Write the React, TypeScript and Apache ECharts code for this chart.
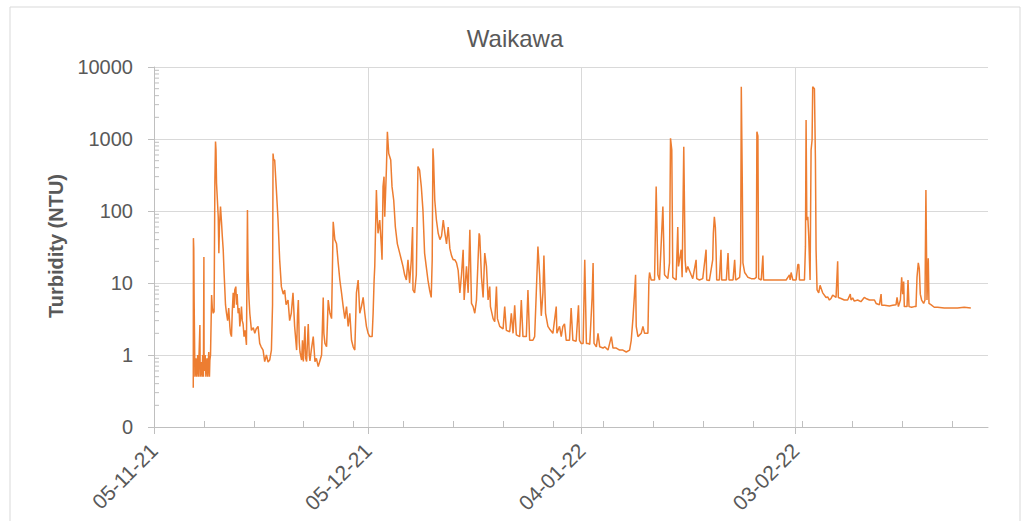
import React, { useEffect, useRef } from "react";
import * as echarts from "echarts";

// Day offsets from 05-11-21, turbidity in NTU
const novReadings: [number, number][] = [
  [5.51, 0.35], [5.53, 42], [5.58, 30], [5.63, 5.8], [5.68, 2.0], [5.74, 0.5], [5.88, 0.9], [5.98, 0.5],
  [6.13, 1.0], [6.23, 0.5], [6.44, 2.6], [6.48, 0.5], [6.63, 0.8], [6.73, 0.5], [6.83, 1.0], [6.93, 0.5],
  [7.0, 23], [7.03, 0.6], [7.18, 1.0], [7.28, 0.5], [7.43, 0.9], [7.53, 0.5], [7.68, 1.1], [7.78, 0.5],
  [7.84, 0.85], [7.93, 1.0], [8.08, 6.8], [8.18, 4.5], [8.31, 3.8], [8.43, 4.0], [8.54, 250], [8.63, 920],
  [8.7, 700], [8.77, 245], [8.88, 150], [9.01, 83], [9.1, 26], [9.18, 60], [9.33, 115], [9.47, 70],
  [9.58, 45], [9.71, 29], [9.83, 14], [9.94, 8], [10.03, 5], [10.17, 3.8], [10.33, 3.0], [10.48, 4.5],
  [10.64, 2.5], [10.73, 2.0], [10.87, 1.8], [10.98, 4], [11.11, 7.3], [11.23, 4.5], [11.33, 8], [11.48, 8.9],
  [11.58, 5], [11.66, 7], [11.8, 3.8], [11.93, 4.5], [12.04, 2.5], [12.18, 3.5], [12.27, 4.7], [12.38, 3.0],
  [12.5, 2.7], [12.63, 1.8], [12.78, 2.2], [12.97, 1.38], [13.11, 103], [13.15, 40], [13.2, 15], [13.33, 6],
  [13.44, 3.8], [13.67, 2.2], [13.93, 2.4], [14.14, 2.0], [14.33, 2.3], [14.6, 2.5], [14.83, 1.45], [15.03, 1.3],
  [15.3, 1.17], [15.53, 0.81], [15.77, 1.0], [16.0, 0.8], [16.23, 0.85], [16.47, 1.17], [16.63, 5], [16.7, 630],
  [16.78, 520], [16.93, 510], [17.17, 195], [17.4, 75], [17.63, 21], [17.87, 8.9], [18.13, 7], [18.33, 8],
  [18.53, 5], [18.8, 5.8], [19.03, 3], [19.26, 3.8], [19.5, 7.3], [19.73, 2.5], [20.01, 1.17], [20.13, 3.5],
  [20.25, 5.8], [20.38, 1.5], [20.48, 1.1], [20.71, 0.85], [20.83, 1.6], [20.95, 0.81], [21.18, 2.5], [21.28, 0.9],
  [21.41, 0.81], [21.64, 2.7], [21.78, 1.0], [21.88, 0.83], [22.08, 1.2], [22.34, 1.8], [22.58, 0.81], [22.78, 0.9],
  [23.04, 0.69], [23.28, 0.83], [23.51, 1.0], [23.74, 6.3], [23.83, 2.0], [23.98, 1.45], [24.21, 1.3], [24.44, 5.8],
  [24.68, 3.8], [24.91, 3.2], [25.14, 71], [25.37, 40], [25.61, 35], [25.84, 19], [26.07, 11], [26.31, 7.3],
  [26.54, 4.7], [26.77, 3.2], [27.01, 4.7], [27.24, 2.5], [27.47, 3.8], [27.71, 1.6], [27.94, 1.3], [28.17, 1.17],
  [28.4, 7.3], [28.64, 11], [28.87, 3.8], [29.1, 4.7], [29.34, 6.3], [29.57, 3.8], [29.8, 2.5],
];

const decReadings: [number, number][] = [
  [30.04, 2.0], [30.27, 1.8], [30.6, 1.8], [30.74, 3.8], [30.88, 11], [30.97, 17], [31.2, 195], [31.33, 80],
  [31.43, 49], [31.67, 75], [31.9, 32], [31.99, 21], [32.13, 218], [32.27, 300], [32.37, 83], [32.6, 370],
  [32.74, 1260], [32.83, 900], [32.93, 630], [33.21, 510], [33.39, 218], [33.63, 141], [33.86, 60], [34.14, 35],
  [34.47, 26], [34.7, 21], [34.93, 17], [35.16, 13], [35.4, 11], [35.63, 21], [35.86, 10], [36.1, 21],
  [36.28, 60], [36.33, 8], [36.56, 7.3], [36.8, 13], [37.03, 414], [37.26, 370], [37.5, 218], [37.73, 103],
  [37.82, 60], [37.96, 26], [38.19, 17], [38.43, 11], [38.66, 8], [38.89, 6.3], [39.03, 21], [39.13, 740],
  [39.22, 510], [39.39, 141], [39.62, 75], [39.87, 49], [40.11, 40], [40.34, 45], [40.58, 75], [40.81, 49],
  [41.04, 35], [41.27, 60], [41.51, 30], [41.74, 24], [41.97, 21], [42.21, 21], [42.44, 19], [42.67, 15],
  [42.91, 7.3], [43.14, 13], [43.37, 29], [43.51, 5.8], [43.84, 17], [44.07, 7.3], [44.31, 55], [44.54, 5.2],
  [44.77, 4.7], [45.0, 3.8], [45.24, 5.8], [45.61, 49], [45.7, 45], [45.94, 12], [46.17, 6.3], [46.4, 26],
  [46.64, 17], [46.87, 5.8], [47.1, 8.9], [47.2, 4.7], [47.57, 3.2], [47.8, 2.9], [48.04, 8.9], [48.18, 3.2],
  [48.5, 2.5], [48.97, 2.3], [49.2, 4.7], [49.43, 2.2], [49.9, 2.1], [50.13, 3.8], [50.37, 2.0], [50.6, 4.9],
  [50.83, 1.9], [51.3, 1.8], [51.53, 5.8], [51.76, 1.8], [52.23, 1.8], [52.46, 8], [52.7, 1.6], [53.16, 1.6],
  [53.4, 1.8], [53.63, 7.3], [53.86, 32], [54.1, 13], [54.33, 3.5], [54.56, 7.3], [54.7, 24], [54.93, 3.8],
  [55.26, 2.5], [55.49, 2.3], [55.96, 2.0], [56.43, 4.7], [56.52, 2.0], [56.89, 2.5], [57.13, 1.8], [57.36, 2.5],
  [57.59, 2.7], [57.83, 1.6], [58.29, 1.6], [58.52, 4.5], [58.76, 1.6], [59.22, 1.55], [59.55, 4.9], [59.69, 1.6],
  [59.92, 1.45],
];

const janReadings: [number, number][] = [
  [60.2, 1.45], [60.43, 21], [60.66, 1.45], [60.9, 1.45], [61.13, 1.4], [61.46, 6.3], [61.6, 19], [61.73, 1.45],
  [62.06, 1.3], [62.29, 2.0], [62.53, 1.3], [62.99, 1.25], [63.23, 1.3], [63.69, 1.17], [64.16, 1.8], [64.39, 1.25],
  [64.86, 1.25], [65.32, 1.17], [65.78, 1.17], [66.25, 1.1], [66.72, 1.17], [66.95, 1.6], [67.19, 3.2], [67.42, 7.3],
  [67.56, 13], [67.65, 2.5], [67.89, 1.8], [68.35, 2.0], [68.59, 2.5], [68.82, 2.0], [69.29, 2.0], [69.43, 11],
  [69.52, 14], [69.75, 11], [70.22, 11], [70.45, 218], [70.69, 13], [70.92, 11], [71.39, 115], [71.53, 29],
  [71.62, 13], [72.08, 11.5], [72.32, 19], [72.46, 1020], [72.64, 700], [72.78, 12], [73.25, 11], [73.48, 60],
  [73.58, 17], [73.95, 29], [74.09, 12], [74.32, 780], [74.51, 21], [74.65, 14], [74.88, 17], [75.35, 13],
  [75.58, 11.5], [76.05, 21], [76.14, 11.5], [76.51, 11], [76.98, 11.5], [77.45, 29], [77.54, 11], [77.91, 10.8],
  [78.38, 21], [78.47, 49], [78.61, 83], [78.75, 60], [78.84, 32], [78.94, 11], [79.31, 11], [79.54, 29],
  [79.64, 11], [80.29, 11], [80.53, 26], [80.67, 11], [81.23, 11], [81.46, 21], [81.6, 11], [82.16, 12],
  [82.3, 19], [82.39, 5300], [82.53, 245], [82.62, 19], [82.86, 14], [83.09, 13], [83.32, 12], [83.79, 11.5],
  [84.26, 11.5], [84.49, 12], [84.58, 1260], [84.72, 1100], [84.82, 11.5], [85.19, 11], [85.42, 24], [85.51, 11],
  [86.82, 11], [88.22, 11], [88.68, 11], [88.92, 12], [89.15, 13], [89.24, 11], [89.38, 14], [89.62, 11],
];

const febReadings: [number, number][] = [
  [90.08, 11], [90.32, 18], [90.46, 18], [90.55, 11], [91.25, 11], [91.39, 32], [91.48, 1830], [91.58, 75],
  [91.72, 83], [91.85, 45], [91.95, 21], [92.04, 11], [92.18, 700], [92.32, 970], [92.41, 5300], [92.65, 5000],
  [92.79, 510], [92.88, 29], [93.02, 8], [93.25, 7.3], [93.44, 9.3], [93.67, 8], [93.81, 7.3], [94.28, 6.3],
  [94.51, 6.4], [94.75, 5.8], [94.98, 6.1], [95.21, 6.8], [95.68, 6.3], [95.91, 20], [96.0, 6.3], [96.38, 6.1],
  [96.84, 5.8], [97.31, 5.8], [97.68, 7], [97.78, 5.8], [98.01, 6.2], [98.24, 5.6], [98.71, 5.8], [99.17, 5.5],
  [99.64, 6.3], [99.87, 6.1], [100.37, 5.8], [101.07, 5.8], [101.3, 5.2], [101.77, 5.0], [102.0, 7], [102.09, 4.9],
  [102.47, 4.9], [103.17, 4.8], [103.63, 4.9], [104.1, 5.0], [104.24, 6.3], [104.43, 4.7], [104.71, 5.8], [104.89, 12],
  [105.03, 7], [105.17, 10.5], [105.26, 4.7], [105.64, 4.7], [105.78, 11], [105.92, 4.7], [106.29, 4.6], [106.66, 4.7],
  [106.9, 4.7], [107.04, 12], [107.22, 19], [107.36, 16], [107.5, 7], [107.69, 5.8], [107.97, 5.2], [108.16, 5.8],
  [108.29, 195], [108.44, 5.8], [108.62, 22], [108.72, 5.2], [108.99, 5.0], [109.46, 4.6], [109.93, 4.6], [110.86, 4.5],
  [111.79, 4.5], [112.72, 4.5], [113.66, 4.6], [114.59, 4.5],
];

const startDateUTC = Date.UTC(2021, 10, 5);
const axisEndDay = 117;
const majorTickDays = [0, 30, 60, 90];
const minorTickDays = [7, 14, 21, 28, 35, 42, 49, 56, 63, 70, 77, 84, 91, 98, 105, 112];
const yMin = 0.1;
const yMax = 10000;
const minorMultipliers = [2, 3, 4, 5, 6, 7, 8, 9];
const titleText = "Waikawa";
const yAxisTitle = "Turbidity (NTU)";

const FONT = "'Liberation Sans', Arial, sans-serif";
const TEXT_COLOR = "#595959";
const AXIS_COLOR = "#BFBFBF";
const GRID_COLOR = "#D9D9D9";
const LINE_COLOR = "#ED7D31";

function fmtDay(d: number): string {
  const dt = new Date(startDateUTC + Math.round(d) * 86400000);
  const dd = String(dt.getUTCDate()).padStart(2, "0");
  const mm = String(dt.getUTCMonth() + 1).padStart(2, "0");
  const yy = String(dt.getUTCFullYear() % 100).padStart(2, "0");
  return `${dd}-${mm}-${yy}`;
}

export default function App() {
  const ref = useRef<HTMLDivElement>(null);
  useEffect(() => {
    if (!ref.current) return;
    const chart = echarts.init(ref.current, undefined, { renderer: "svg" });
    const data = [...novReadings, ...decReadings, ...janReadings, ...febReadings];
    chart.setOption({
      animation: false,
      backgroundColor: "#ffffff",
      grid: { left: 154, top: 67, width: 834, height: 360, containLabel: false },
      xAxis: [
        {
          type: "value",
          min: 0,
          max: axisEndDay,
          interval: 30,
          axisLine: { show: true, lineStyle: { color: AXIS_COLOR, width: 1 } },
          axisTick: { show: true, customValues: majorTickDays, length: 7, lineStyle: { color: AXIS_COLOR } },
          axisLabel: {
            customValues: majorTickDays,
            rotate: 45,
            margin: 20,
            color: TEXT_COLOR,
            fontSize: 21,
            fontFamily: FONT,
            formatter: (v: number) => fmtDay(v),
          },
          splitLine: { show: true, lineStyle: { color: GRID_COLOR, width: 1 } },
        },
        {
          type: "value",
          min: 0,
          max: axisEndDay,
          position: "bottom",
          axisLine: { show: false },
          axisTick: { show: true, inside: true, customValues: minorTickDays, length: 6, lineStyle: { color: AXIS_COLOR } },
          axisLabel: { show: false },
          splitLine: { show: false },
        },
      ],
      yAxis: {
        type: "log",
        logBase: 10,
        min: yMin,
        max: yMax,
        axisLine: { show: true, lineStyle: { color: AXIS_COLOR, width: 1 } },
        axisTick: { show: true, length: 6, lineStyle: { color: AXIS_COLOR } },
        axisLabel: {
          color: TEXT_COLOR,
          fontSize: 20,
          fontFamily: FONT,
          margin: 21,
          formatter: (v: number) => (v < 1 ? "0" : String(Math.round(v))),
        },
        splitLine: { show: true, lineStyle: { color: GRID_COLOR, width: 1 } },
      },
      series: [
        {
          type: "line",
          xAxisIndex: 0,
          data,
          showSymbol: false,
          symbol: "none",
          lineStyle: { color: LINE_COLOR, width: 1.5 },
          itemStyle: { color: LINE_COLOR },
        },
      ],
    });

    const x0 = chart.convertToPixel({ xAxisIndex: 0 }, 0) as number;
    const ticks: any[] = [];
    for (let e = -1; e < 4; e++) {
      for (const m of minorMultipliers) {
        const v = m * Math.pow(10, e);
        const y = chart.convertToPixel({ yAxisIndex: 0 }, v) as number;
        ticks.push({
          type: "line",
          silent: true,
          shape: { x1: x0, y1: y, x2: x0 + 5, y2: y },
          style: { stroke: AXIS_COLOR, lineWidth: 1 },
        });
      }
    }
    chart.setOption({
      graphic: [
        {
          type: "rect",
          silent: true,
          shape: { x: 10, y: 7, width: 1010, height: 530 },
          style: { fill: "none", stroke: GRID_COLOR, lineWidth: 1 },
        },
        {
          type: "text",
          x: 515,
          y: 38,
          style: {
            text: titleText,
            fill: TEXT_COLOR,
            font: `24px ${FONT}`,
            textAlign: "center",
            textVerticalAlign: "middle",
          },
        },
        {
          type: "text",
          x: 56,
          y: 246,
          rotation: Math.PI / 2,
          style: {
            text: yAxisTitle,
            fill: TEXT_COLOR,
            font: `bold 20px ${FONT}`,
            textAlign: "center",
            textVerticalAlign: "middle",
          },
        },
        ...ticks,
      ],
    });
    return () => chart.dispose();
  }, []);
  return (
    <div
      ref={ref}
      style={{ position: "fixed", left: 0, top: 0, width: 1024, height: 521 }}
    />
  );
}
